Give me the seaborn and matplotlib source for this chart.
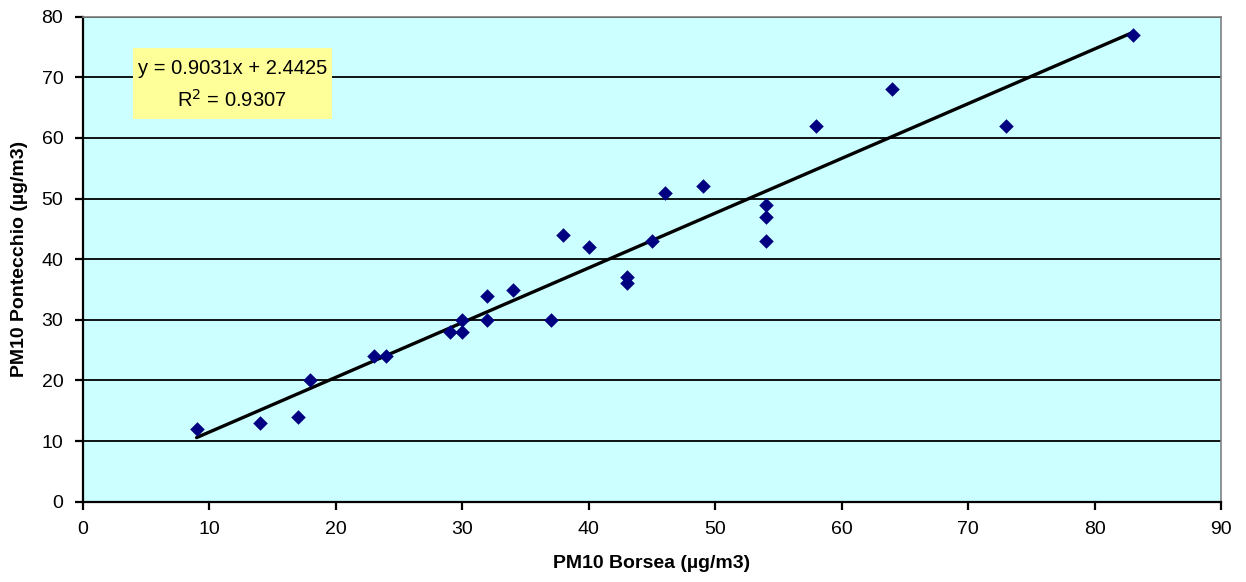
import numpy as np
import pandas as pd
import seaborn as sns
import matplotlib.pyplot as plt
from matplotlib.patches import Rectangle

# PM10 values (µg/m3)
borsea = [9, 14, 17, 18, 23, 24, 29, 30, 30, 32, 32, 34, 37, 38, 40, 43, 43,
          45, 46, 49, 54, 54, 54, 58, 64, 73, 83]
pontecchio = [12, 13, 14, 20, 24, 24, 28, 28, 30, 30, 34, 35, 30, 44, 42, 36, 37,
              43, 51, 52, 43, 47, 49, 62, 68, 62, 77]
equation = "y = 0.9031x + 2.4425"
r_squared = "R$^2$ = 0.9307"

df = pd.DataFrame({"borsea": borsea, "pontecchio": pontecchio})

sns.set_style("white")
plt.rcParams["font.family"] = ["Liberation Sans", "DejaVu Sans"]
plt.rcParams["text.color"] = "black"
plt.rcParams["axes.labelcolor"] = "black"
plt.rcParams["xtick.color"] = "black"
plt.rcParams["ytick.color"] = "black"

fig = plt.figure(figsize=(12.46, 5.82), dpi=100)
ax = fig.add_axes([0.0664, 0.138, 0.9136, 0.8332])
ax.set_facecolor("#CCFFFF")

sns.regplot(data=df, x="borsea", y="pontecchio", ax=ax, ci=None, marker="D",
            scatter_kws={"color": "#000080", "s": 55, "linewidths": 0,
                         "alpha": 1, "zorder": 4},
            line_kws={"color": "black", "linewidth": 2.4, "zorder": 3})

ax.set_xlim(0, 90)
ax.set_ylim(0, 80)
ax.set_xticks(range(0, 91, 10))
ax.set_yticks(range(0, 81, 10))
ax.yaxis.grid(True, color="black", linewidth=1.3)
ax.set_axisbelow(True)

for side in ["top", "right"]:
    ax.spines[side].set_color("#808080")
    ax.spines[side].set_linewidth(1.2)
for side in ["left", "bottom"]:
    ax.spines[side].set_color("black")
    ax.spines[side].set_linewidth(1.6)

ax.tick_params(axis="both", direction="out", length=6, width=1.6, color="black",
               labelsize=14, pad=8, bottom=True, left=True)

ax.set_xlabel("PM10 Borsea (µg/m3)", fontsize=14, fontweight="bold", labelpad=12)
ax.set_ylabel("PM10 Pontecchio (µg/m3)", fontsize=14, fontweight="bold", labelpad=10)

# trendline label box
ax.add_patch(Rectangle((0.0442, 0.789), 0.1744, 0.1468, transform=ax.transAxes,
                       facecolor="#FFFF99", edgecolor="none", zorder=5))
ax.text(0.1314, 0.893, equation, transform=ax.transAxes, ha="center", va="center",
        fontsize=14.5, zorder=6)
ax.text(0.1314, 0.828, r_squared, transform=ax.transAxes, ha="center", va="center",
        fontsize=14.5, zorder=6)

fig.savefig("out.png", dpi=100)
